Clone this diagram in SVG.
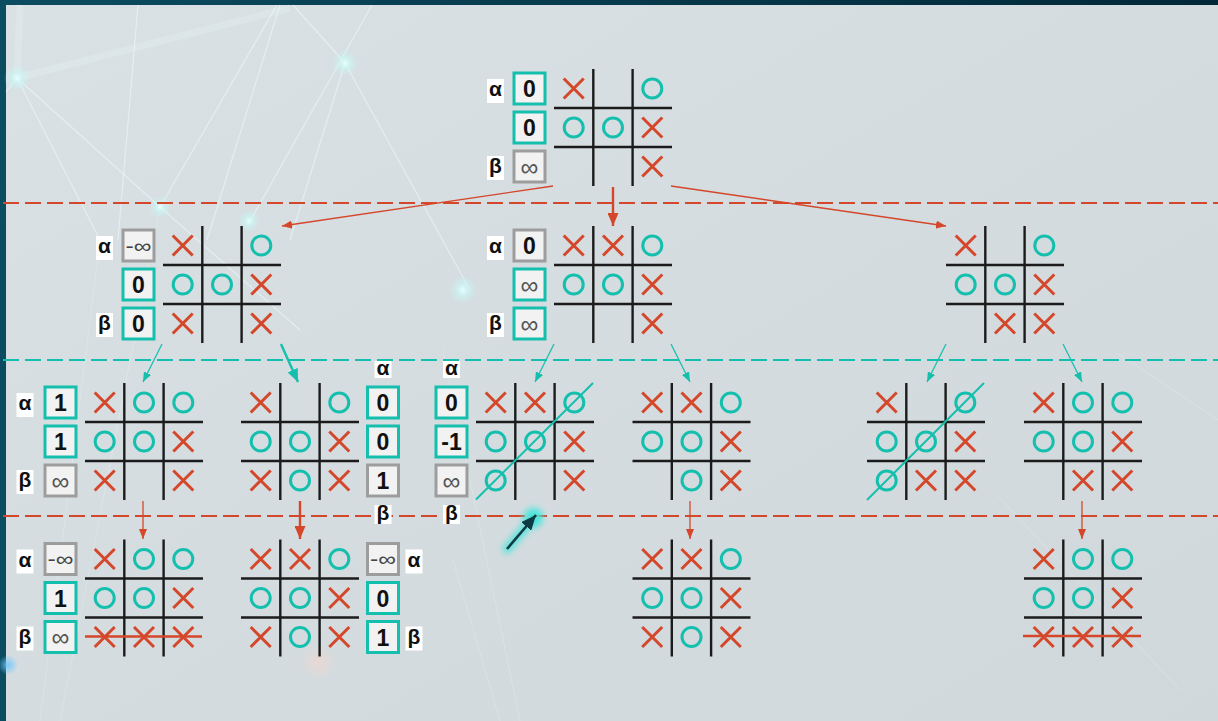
<svg xmlns="http://www.w3.org/2000/svg" xmlns:xlink="http://www.w3.org/1999/xlink" width="1218" height="721" viewBox="0 0 1218 721">
<defs>
<style>
.gl{stroke:#1b1b1b;stroke-width:2.4}
.x{stroke:#d4472a;stroke-width:3;fill:none}
.o{stroke:#15bfae;stroke-width:3;fill:none}
.bt{fill:#f2f2f2;stroke:#15bfae;stroke-width:3}
.bg{fill:#f2f2f2;stroke:#9d9d9d;stroke-width:3}
.lb{fill:#ffffff}
.lt{font-family:"Liberation Sans",Arial,sans-serif;font-weight:bold;font-size:21px;text-anchor:middle;fill:#111}
.num{font-family:"Liberation Sans",Arial,sans-serif;font-weight:bold;font-size:23px;text-anchor:middle;fill:#111}
.inf{font-family:"Liberation Sans",Arial,sans-serif;font-size:25px;text-anchor:middle;fill:#555}
.ninf{font-family:"Liberation Sans",Arial,sans-serif;font-size:20px;text-anchor:middle;fill:#444}
.dr{stroke:#d4472a;stroke-width:2;stroke-dasharray:16 6;fill:none}
.dt{stroke:#15bfae;stroke-width:2;stroke-dasharray:16 6;fill:none}
.cr{stroke:#d4472a;stroke-width:1.3;fill:none}
.crt{stroke:#d4472a;stroke-width:2.4;fill:none}
.ct{stroke:#15bfae;stroke-width:1.3;fill:none}
.ctt{stroke:#15bfae;stroke-width:2.4;fill:none}
.win{stroke:#15bfae;stroke-width:2}
.strike{stroke:#d4472a;stroke-width:2.5}
.deco{stroke:#ecfbfb;stroke-width:1.2;fill:none;opacity:0.55}
.decof{stroke:#ecfbfb;stroke-width:1;fill:none;opacity:0.25}
.decow{stroke:#eefafa;stroke-width:7;fill:none;opacity:0.22}
</style>
<linearGradient id="frame" x1="0" y1="0" x2="1" y2="0">
<stop offset="0" stop-color="#0c4c60"/>
<stop offset="1" stop-color="#022838"/>
</linearGradient>
<linearGradient id="panel" x1="0" y1="0" x2="1" y2="1">
<stop offset="0" stop-color="#d9e1e4"/>
<stop offset="0.5" stop-color="#d4dcdf"/>
<stop offset="1" stop-color="#d1d8db"/>
</linearGradient>
<radialGradient id="glow">
<stop offset="0" stop-color="#e8ffff" stop-opacity="0.95"/>
<stop offset="0.45" stop-color="#c8f7f5" stop-opacity="0.6"/>
<stop offset="1" stop-color="#c8f7f5" stop-opacity="0"/>
</radialGradient>
<radialGradient id="glowr">
<stop offset="0" stop-color="#f2d6d0" stop-opacity="0.7"/>
<stop offset="1" stop-color="#f2d6d0" stop-opacity="0"/>
</radialGradient>
<radialGradient id="glowb">
<stop offset="0" stop-color="#6fc8ff" stop-opacity="0.9"/>
<stop offset="1" stop-color="#6fc8ff" stop-opacity="0"/>
</radialGradient>
<filter id="blur" x="-50%" y="-50%" width="200%" height="200%">
<feGaussianBlur stdDeviation="3"/>
</filter>
<g id="grid">
<line class="gl" x1="39.3" y1="0" x2="39.3" y2="117"/>
<line class="gl" x1="78.6" y1="0" x2="78.6" y2="117"/>
<line class="gl" x1="0" y1="39" x2="118" y2="39"/>
<line class="gl" x1="0" y1="78" x2="118" y2="78"/>
</g>
<path id="mx" d="M-10,-10L10,10M10,-10L-10,10"/>
<circle id="mo" cx="0" cy="0" r="9.5"/>
<marker id="ar" markerUnits="userSpaceOnUse" markerWidth="10" markerHeight="8" refX="10" refY="4" orient="auto"><path d="M0,0L10,4L0,8z" fill="#d4472a"/></marker>
<marker id="arT" markerUnits="userSpaceOnUse" markerWidth="13" markerHeight="11" refX="13" refY="5.5" orient="auto"><path d="M0,0L13,5.5L0,11z" fill="#d4472a"/></marker>
<marker id="at" markerUnits="userSpaceOnUse" markerWidth="10" markerHeight="8" refX="10" refY="4" orient="auto"><path d="M0,0L10,4L0,8z" fill="#15bfae"/></marker>
<marker id="atT" markerUnits="userSpaceOnUse" markerWidth="13" markerHeight="11" refX="13" refY="5.5" orient="auto"><path d="M0,0L13,5.5L0,11z" fill="#15bfae"/></marker>
<marker id="ad" markerUnits="userSpaceOnUse" markerWidth="15" markerHeight="13" refX="15" refY="6.5" orient="auto"><path d="M0,0L15,6.5L0,13z" fill="#0e3a44"/></marker>
</defs>

<g id="background">
<rect x="0" y="0" width="1218" height="721" fill="url(#frame)"/>
<rect x="6" y="5" width="1212" height="716" fill="url(#panel)"/>
<line class="decow" x1="17" y1="78" x2="290" y2="8"/>
<line class="decow" x1="20" y1="5" x2="17" y2="78"/>
<line class="deco" x1="17" y1="78" x2="6" y2="92"/>
<line class="deco" x1="17" y1="78" x2="160" y2="207"/>
<line class="deco" x1="160" y1="207" x2="300" y2="330"/>
<line class="deco" x1="17" y1="78" x2="100" y2="240"/>
<line class="deco" x1="138" y1="5" x2="118" y2="240"/>
<line class="deco" x1="277" y1="5" x2="160" y2="207"/>
<line class="deco" x1="280" y1="5" x2="207" y2="240"/>
<line class="deco" x1="372" y1="5" x2="250" y2="221"/>
<line class="deco" x1="345" y1="63" x2="290" y2="240"/>
<line class="deco" x1="345" y1="63" x2="470" y2="290"/>
<line class="deco" x1="345" y1="63" x2="293" y2="5"/>
<line class="decof" x1="443" y1="350" x2="520" y2="721"/>
<line class="decof" x1="100" y1="240" x2="40" y2="721"/>
<line class="decof" x1="160" y1="207" x2="60" y2="721"/>
<line class="decof" x1="453" y1="560" x2="500" y2="721"/>
<line class="decof" x1="1117" y1="353" x2="1218" y2="420"/>
<line class="decof" x1="997" y1="495" x2="1180" y2="690"/>
<circle cx="17" cy="78" r="13" fill="url(#glow)"/>
<circle cx="345" cy="63" r="13" fill="url(#glow)"/>
<circle cx="160" cy="207" r="11" fill="url(#glow)"/>
<circle cx="249" cy="221" r="11" fill="url(#glow)"/>
<circle cx="463" cy="290" r="14" fill="url(#glow)"/>
<circle cx="318" cy="662" r="18" fill="url(#glowr)"/>
<circle cx="8" cy="665" r="10" fill="url(#glowb)"/>
</g>

<g id="level-lines">
<line class="dr" x1="3" y1="203" x2="1218" y2="203"/>
<line class="dt" x1="3" y1="360" x2="1218" y2="360"/>
<line class="dr" x1="3" y1="516" x2="1218" y2="516"/>
</g>

<g id="connectors">
<line class="cr" x1="553" y1="186" x2="282" y2="226" marker-end="url(#ar)"/>
<line class="crt" x1="613" y1="187" x2="613" y2="226" marker-end="url(#arT)"/>
<line class="cr" x1="671" y1="186" x2="946" y2="226" marker-end="url(#ar)"/>
<line class="ct" x1="162" y1="344" x2="143" y2="382" marker-end="url(#at)"/>
<line class="ctt" x1="281" y1="344" x2="298" y2="382" marker-end="url(#atT)"/>
<line class="ct" x1="554" y1="344" x2="535" y2="382" marker-end="url(#at)"/>
<line class="ct" x1="671" y1="344" x2="690" y2="382" marker-end="url(#at)"/>
<line class="ct" x1="946" y1="344" x2="927" y2="382" marker-end="url(#at)"/>
<line class="ct" x1="1063" y1="344" x2="1082" y2="382" marker-end="url(#at)"/>
<line class="cr" x1="143" y1="501" x2="143" y2="539" marker-end="url(#ar)"/>
<line class="crt" x1="300" y1="501" x2="300" y2="539" marker-end="url(#arT)"/>
<line class="cr" x1="690" y1="501" x2="690" y2="539" marker-end="url(#ar)"/>
<line class="cr" x1="1082" y1="501" x2="1082" y2="539" marker-end="url(#ar)"/>
<g id="pointer">
<line x1="507" y1="549" x2="536" y2="515" stroke="#3fe6dc" stroke-width="9" stroke-linecap="round" filter="url(#blur)" opacity="0.8"/>
<circle cx="533" cy="518" r="10" fill="#3fe6dc" filter="url(#blur)" opacity="0.8"/>
<line x1="507" y1="549" x2="536" y2="515" stroke="#0e3a44" stroke-width="2.6" marker-end="url(#ad)"/>
</g>
</g>

<!-- Root -->
<g id="node-root" transform="translate(554,69)">
<use href="#grid"/>
<use href="#mx" class="x" x="19.7" y="19.5"/>
<use href="#mo" class="o" x="98.3" y="19.5"/>
<use href="#mo" class="o" x="19.7" y="58.5"/>
<use href="#mo" class="o" x="59" y="58.5"/>
<use href="#mx" class="x" x="98.3" y="58.5"/>
<use href="#mx" class="x" x="98.3" y="97.5"/>
<rect class="bt" x="-40" y="4" width="31" height="31"/>
<text class="num" x="-24.5" y="28">0</text>
<rect class="bt" x="-40" y="43" width="31" height="31"/>
<text class="num" x="-24.5" y="67">0</text>
<rect class="bg" x="-40" y="82" width="31" height="31"/>
<text class="inf" x="-24.5" y="106.5">∞</text>
<rect class="lb" x="-67" y="10" width="17" height="24"/>
<text class="lt" x="-58.5" y="27">α</text>
<rect class="lb" x="-67" y="87" width="17" height="24"/>
<text class="lt" x="-58.5" y="104">β</text>
</g>

<!-- Level 2 -->
<g id="node-l2-left" transform="translate(163,226)">
<use href="#grid"/>
<use href="#mx" class="x" x="19.7" y="19.5"/>
<use href="#mo" class="o" x="98.3" y="19.5"/>
<use href="#mo" class="o" x="19.7" y="58.5"/>
<use href="#mo" class="o" x="59" y="58.5"/>
<use href="#mx" class="x" x="98.3" y="58.5"/>
<use href="#mx" class="x" x="19.7" y="97.5"/>
<use href="#mx" class="x" x="98.3" y="97.5"/>
<rect class="bg" x="-40" y="4" width="31" height="31"/>
<text class="ninf" x="-24.5" y="26.5" textLength="26" lengthAdjust="spacingAndGlyphs">-∞</text>
<rect class="bt" x="-40" y="43" width="31" height="31"/>
<text class="num" x="-24.5" y="67">0</text>
<rect class="bt" x="-40" y="82" width="31" height="31"/>
<text class="num" x="-24.5" y="106">0</text>
<rect class="lb" x="-67" y="10" width="17" height="24"/>
<text class="lt" x="-58.5" y="27">α</text>
<rect class="lb" x="-67" y="87" width="17" height="24"/>
<text class="lt" x="-58.5" y="104">β</text>
</g>

<g id="node-l2-mid" transform="translate(554,226)">
<use href="#grid"/>
<use href="#mx" class="x" x="19.7" y="19.5"/>
<use href="#mx" class="x" x="59" y="19.5"/>
<use href="#mo" class="o" x="98.3" y="19.5"/>
<use href="#mo" class="o" x="19.7" y="58.5"/>
<use href="#mo" class="o" x="59" y="58.5"/>
<use href="#mx" class="x" x="98.3" y="58.5"/>
<use href="#mx" class="x" x="98.3" y="97.5"/>
<rect class="bg" x="-40" y="4" width="31" height="31"/>
<text class="num" x="-24.5" y="28">0</text>
<rect class="bt" x="-40" y="43" width="31" height="31"/>
<text class="inf" x="-24.5" y="67.5">∞</text>
<rect class="bt" x="-40" y="82" width="31" height="31"/>
<text class="inf" x="-24.5" y="106.5">∞</text>
<rect class="lb" x="-67" y="10" width="17" height="24"/>
<text class="lt" x="-58.5" y="27">α</text>
<rect class="lb" x="-67" y="87" width="17" height="24"/>
<text class="lt" x="-58.5" y="104">β</text>
</g>

<g id="node-l2-right" transform="translate(946,226)">
<use href="#grid"/>
<use href="#mx" class="x" x="19.7" y="19.5"/>
<use href="#mo" class="o" x="98.3" y="19.5"/>
<use href="#mo" class="o" x="19.7" y="58.5"/>
<use href="#mo" class="o" x="59" y="58.5"/>
<use href="#mx" class="x" x="98.3" y="58.5"/>
<use href="#mx" class="x" x="59" y="97.5"/>
<use href="#mx" class="x" x="98.3" y="97.5"/>
</g>

<!-- Level 3 -->
<g id="node-l3-a" transform="translate(85,383)">
<use href="#grid"/>
<use href="#mx" class="x" x="19.7" y="19.5"/>
<use href="#mo" class="o" x="59" y="19.5"/>
<use href="#mo" class="o" x="98.3" y="19.5"/>
<use href="#mo" class="o" x="19.7" y="58.5"/>
<use href="#mo" class="o" x="59" y="58.5"/>
<use href="#mx" class="x" x="98.3" y="58.5"/>
<use href="#mx" class="x" x="19.7" y="97.5"/>
<use href="#mx" class="x" x="98.3" y="97.5"/>
<rect class="bt" x="-40" y="4" width="31" height="31"/>
<text class="num" x="-24.5" y="28">1</text>
<rect class="bt" x="-40" y="43" width="31" height="31"/>
<text class="num" x="-24.5" y="67">1</text>
<rect class="bg" x="-40" y="82" width="31" height="31"/>
<text class="inf" x="-24.5" y="106.5">∞</text>
<rect class="lb" x="-68.5" y="10" width="17" height="24"/>
<text class="lt" x="-60" y="27">α</text>
<rect class="lb" x="-68.5" y="87" width="17" height="24"/>
<text class="lt" x="-60" y="104">β</text>
</g>

<g id="node-l3-b" transform="translate(241,383)">
<use href="#grid"/>
<use href="#mx" class="x" x="19.7" y="19.5"/>
<use href="#mo" class="o" x="98.3" y="19.5"/>
<use href="#mo" class="o" x="19.7" y="58.5"/>
<use href="#mo" class="o" x="59" y="58.5"/>
<use href="#mx" class="x" x="98.3" y="58.5"/>
<use href="#mx" class="x" x="19.7" y="97.5"/>
<use href="#mo" class="o" x="59" y="97.5"/>
<use href="#mx" class="x" x="98.3" y="97.5"/>
<rect class="bt" x="126.5" y="4" width="31" height="31"/>
<text class="num" x="142" y="28">0</text>
<rect class="bt" x="126.5" y="43" width="31" height="31"/>
<text class="num" x="142" y="67">0</text>
<rect class="bg" x="126.5" y="82" width="31" height="31"/>
<text class="num" x="142" y="106">1</text>
<rect class="lb" x="133.5" y="-22" width="17" height="17"/>
<text class="lt" x="142" y="-8">α</text>
<rect class="lb" x="133.5" y="122" width="17" height="19"/>
<text class="lt" x="142" y="137">β</text>
</g>

<g id="node-l3-c" transform="translate(476,383)">
<use href="#grid"/>
<use href="#mx" class="x" x="19.7" y="19.5"/>
<use href="#mx" class="x" x="59" y="19.5"/>
<use href="#mo" class="o" x="98.3" y="19.5"/>
<use href="#mo" class="o" x="19.7" y="58.5"/>
<use href="#mo" class="o" x="59" y="58.5"/>
<use href="#mx" class="x" x="98.3" y="58.5"/>
<use href="#mo" class="o" x="19.7" y="97.5"/>
<use href="#mx" class="x" x="98.3" y="97.5"/>
<line class="win" x1="0" y1="116.5" x2="117" y2="0"/>
<rect class="bt" x="-40" y="4" width="31" height="31"/>
<text class="num" x="-24.5" y="28">0</text>
<rect class="bt" x="-40" y="43" width="31" height="31"/>
<text class="num" x="-24.5" y="67">-1</text>
<rect class="bg" x="-40" y="82" width="31" height="31"/>
<text class="inf" x="-24.5" y="106.5">∞</text>
<rect class="lb" x="-33" y="-22" width="17" height="17"/>
<text class="lt" x="-24.5" y="-8">α</text>
<rect class="lb" x="-33" y="122" width="17" height="19"/>
<text class="lt" x="-24.5" y="137">β</text>
</g>

<g id="node-l3-d" transform="translate(632.5,383)">
<use href="#grid"/>
<use href="#mx" class="x" x="19.7" y="19.5"/>
<use href="#mx" class="x" x="59" y="19.5"/>
<use href="#mo" class="o" x="98.3" y="19.5"/>
<use href="#mo" class="o" x="19.7" y="58.5"/>
<use href="#mo" class="o" x="59" y="58.5"/>
<use href="#mx" class="x" x="98.3" y="58.5"/>
<use href="#mo" class="o" x="59" y="97.5"/>
<use href="#mx" class="x" x="98.3" y="97.5"/>
</g>

<g id="node-l3-e" transform="translate(867,383)">
<use href="#grid"/>
<use href="#mx" class="x" x="19.7" y="19.5"/>
<use href="#mo" class="o" x="98.3" y="19.5"/>
<use href="#mo" class="o" x="19.7" y="58.5"/>
<use href="#mo" class="o" x="59" y="58.5"/>
<use href="#mx" class="x" x="98.3" y="58.5"/>
<use href="#mo" class="o" x="19.7" y="97.5"/>
<use href="#mx" class="x" x="59" y="97.5"/>
<use href="#mx" class="x" x="98.3" y="97.5"/>
<line class="win" x1="0" y1="117" x2="117" y2="0"/>
</g>

<g id="node-l3-f" transform="translate(1024,383)">
<use href="#grid"/>
<use href="#mx" class="x" x="19.7" y="19.5"/>
<use href="#mo" class="o" x="59" y="19.5"/>
<use href="#mo" class="o" x="98.3" y="19.5"/>
<use href="#mo" class="o" x="19.7" y="58.5"/>
<use href="#mo" class="o" x="59" y="58.5"/>
<use href="#mx" class="x" x="98.3" y="58.5"/>
<use href="#mx" class="x" x="59" y="97.5"/>
<use href="#mx" class="x" x="98.3" y="97.5"/>
</g>

<!-- Level 4 -->
<g id="node-l4-a" transform="translate(85,539.5)">
<use href="#grid"/>
<use href="#mx" class="x" x="19.7" y="19.5"/>
<use href="#mo" class="o" x="59" y="19.5"/>
<use href="#mo" class="o" x="98.3" y="19.5"/>
<use href="#mo" class="o" x="19.7" y="58.5"/>
<use href="#mo" class="o" x="59" y="58.5"/>
<use href="#mx" class="x" x="98.3" y="58.5"/>
<use href="#mx" class="x" x="19.7" y="97.5"/>
<use href="#mx" class="x" x="59" y="97.5"/>
<use href="#mx" class="x" x="98.3" y="97.5"/>
<line class="strike" x1="0" y1="97" x2="117" y2="97"/>
<rect class="bg" x="-40" y="4" width="31" height="31"/>
<text class="ninf" x="-24.5" y="26.5" textLength="26" lengthAdjust="spacingAndGlyphs">-∞</text>
<rect class="bt" x="-40" y="43" width="31" height="31"/>
<text class="num" x="-24.5" y="67">1</text>
<rect class="bt" x="-40" y="82" width="31" height="31"/>
<text class="inf" x="-24.5" y="106.5">∞</text>
<rect class="lb" x="-68.5" y="10" width="17" height="24"/>
<text class="lt" x="-60" y="27">α</text>
<rect class="lb" x="-68.5" y="87" width="17" height="24"/>
<text class="lt" x="-60" y="104">β</text>
</g>

<g id="node-l4-b" transform="translate(241,539.5)">
<use href="#grid"/>
<use href="#mx" class="x" x="19.7" y="19.5"/>
<use href="#mx" class="x" x="59" y="19.5"/>
<use href="#mo" class="o" x="98.3" y="19.5"/>
<use href="#mo" class="o" x="19.7" y="58.5"/>
<use href="#mo" class="o" x="59" y="58.5"/>
<use href="#mx" class="x" x="98.3" y="58.5"/>
<use href="#mx" class="x" x="19.7" y="97.5"/>
<use href="#mo" class="o" x="59" y="97.5"/>
<use href="#mx" class="x" x="98.3" y="97.5"/>
<rect class="bg" x="126.5" y="4" width="31" height="31"/>
<text class="ninf" x="142" y="26.5" textLength="26" lengthAdjust="spacingAndGlyphs">-∞</text>
<rect class="bt" x="126.5" y="43" width="31" height="31"/>
<text class="num" x="142" y="67">0</text>
<rect class="bt" x="126.5" y="82" width="31" height="31"/>
<text class="num" x="142" y="106">1</text>
<rect class="lb" x="164.5" y="10" width="17" height="24"/>
<text class="lt" x="173" y="27">α</text>
<rect class="lb" x="164.5" y="87" width="17" height="24"/>
<text class="lt" x="173" y="104">β</text>
</g>

<g id="node-l4-d" transform="translate(632.5,539.5)">
<use href="#grid"/>
<use href="#mx" class="x" x="19.7" y="19.5"/>
<use href="#mx" class="x" x="59" y="19.5"/>
<use href="#mo" class="o" x="98.3" y="19.5"/>
<use href="#mo" class="o" x="19.7" y="58.5"/>
<use href="#mo" class="o" x="59" y="58.5"/>
<use href="#mx" class="x" x="98.3" y="58.5"/>
<use href="#mx" class="x" x="19.7" y="97.5"/>
<use href="#mo" class="o" x="59" y="97.5"/>
<use href="#mx" class="x" x="98.3" y="97.5"/>
</g>

<g id="node-l4-f" transform="translate(1024,539.5)">
<use href="#grid"/>
<use href="#mx" class="x" x="19.7" y="19.5"/>
<use href="#mo" class="o" x="59" y="19.5"/>
<use href="#mo" class="o" x="98.3" y="19.5"/>
<use href="#mo" class="o" x="19.7" y="58.5"/>
<use href="#mo" class="o" x="59" y="58.5"/>
<use href="#mx" class="x" x="98.3" y="58.5"/>
<use href="#mx" class="x" x="19.7" y="97.5"/>
<use href="#mx" class="x" x="59" y="97.5"/>
<use href="#mx" class="x" x="98.3" y="97.5"/>
<line class="strike" x1="-1" y1="96.5" x2="117" y2="96.5"/>
</g>
</svg>
